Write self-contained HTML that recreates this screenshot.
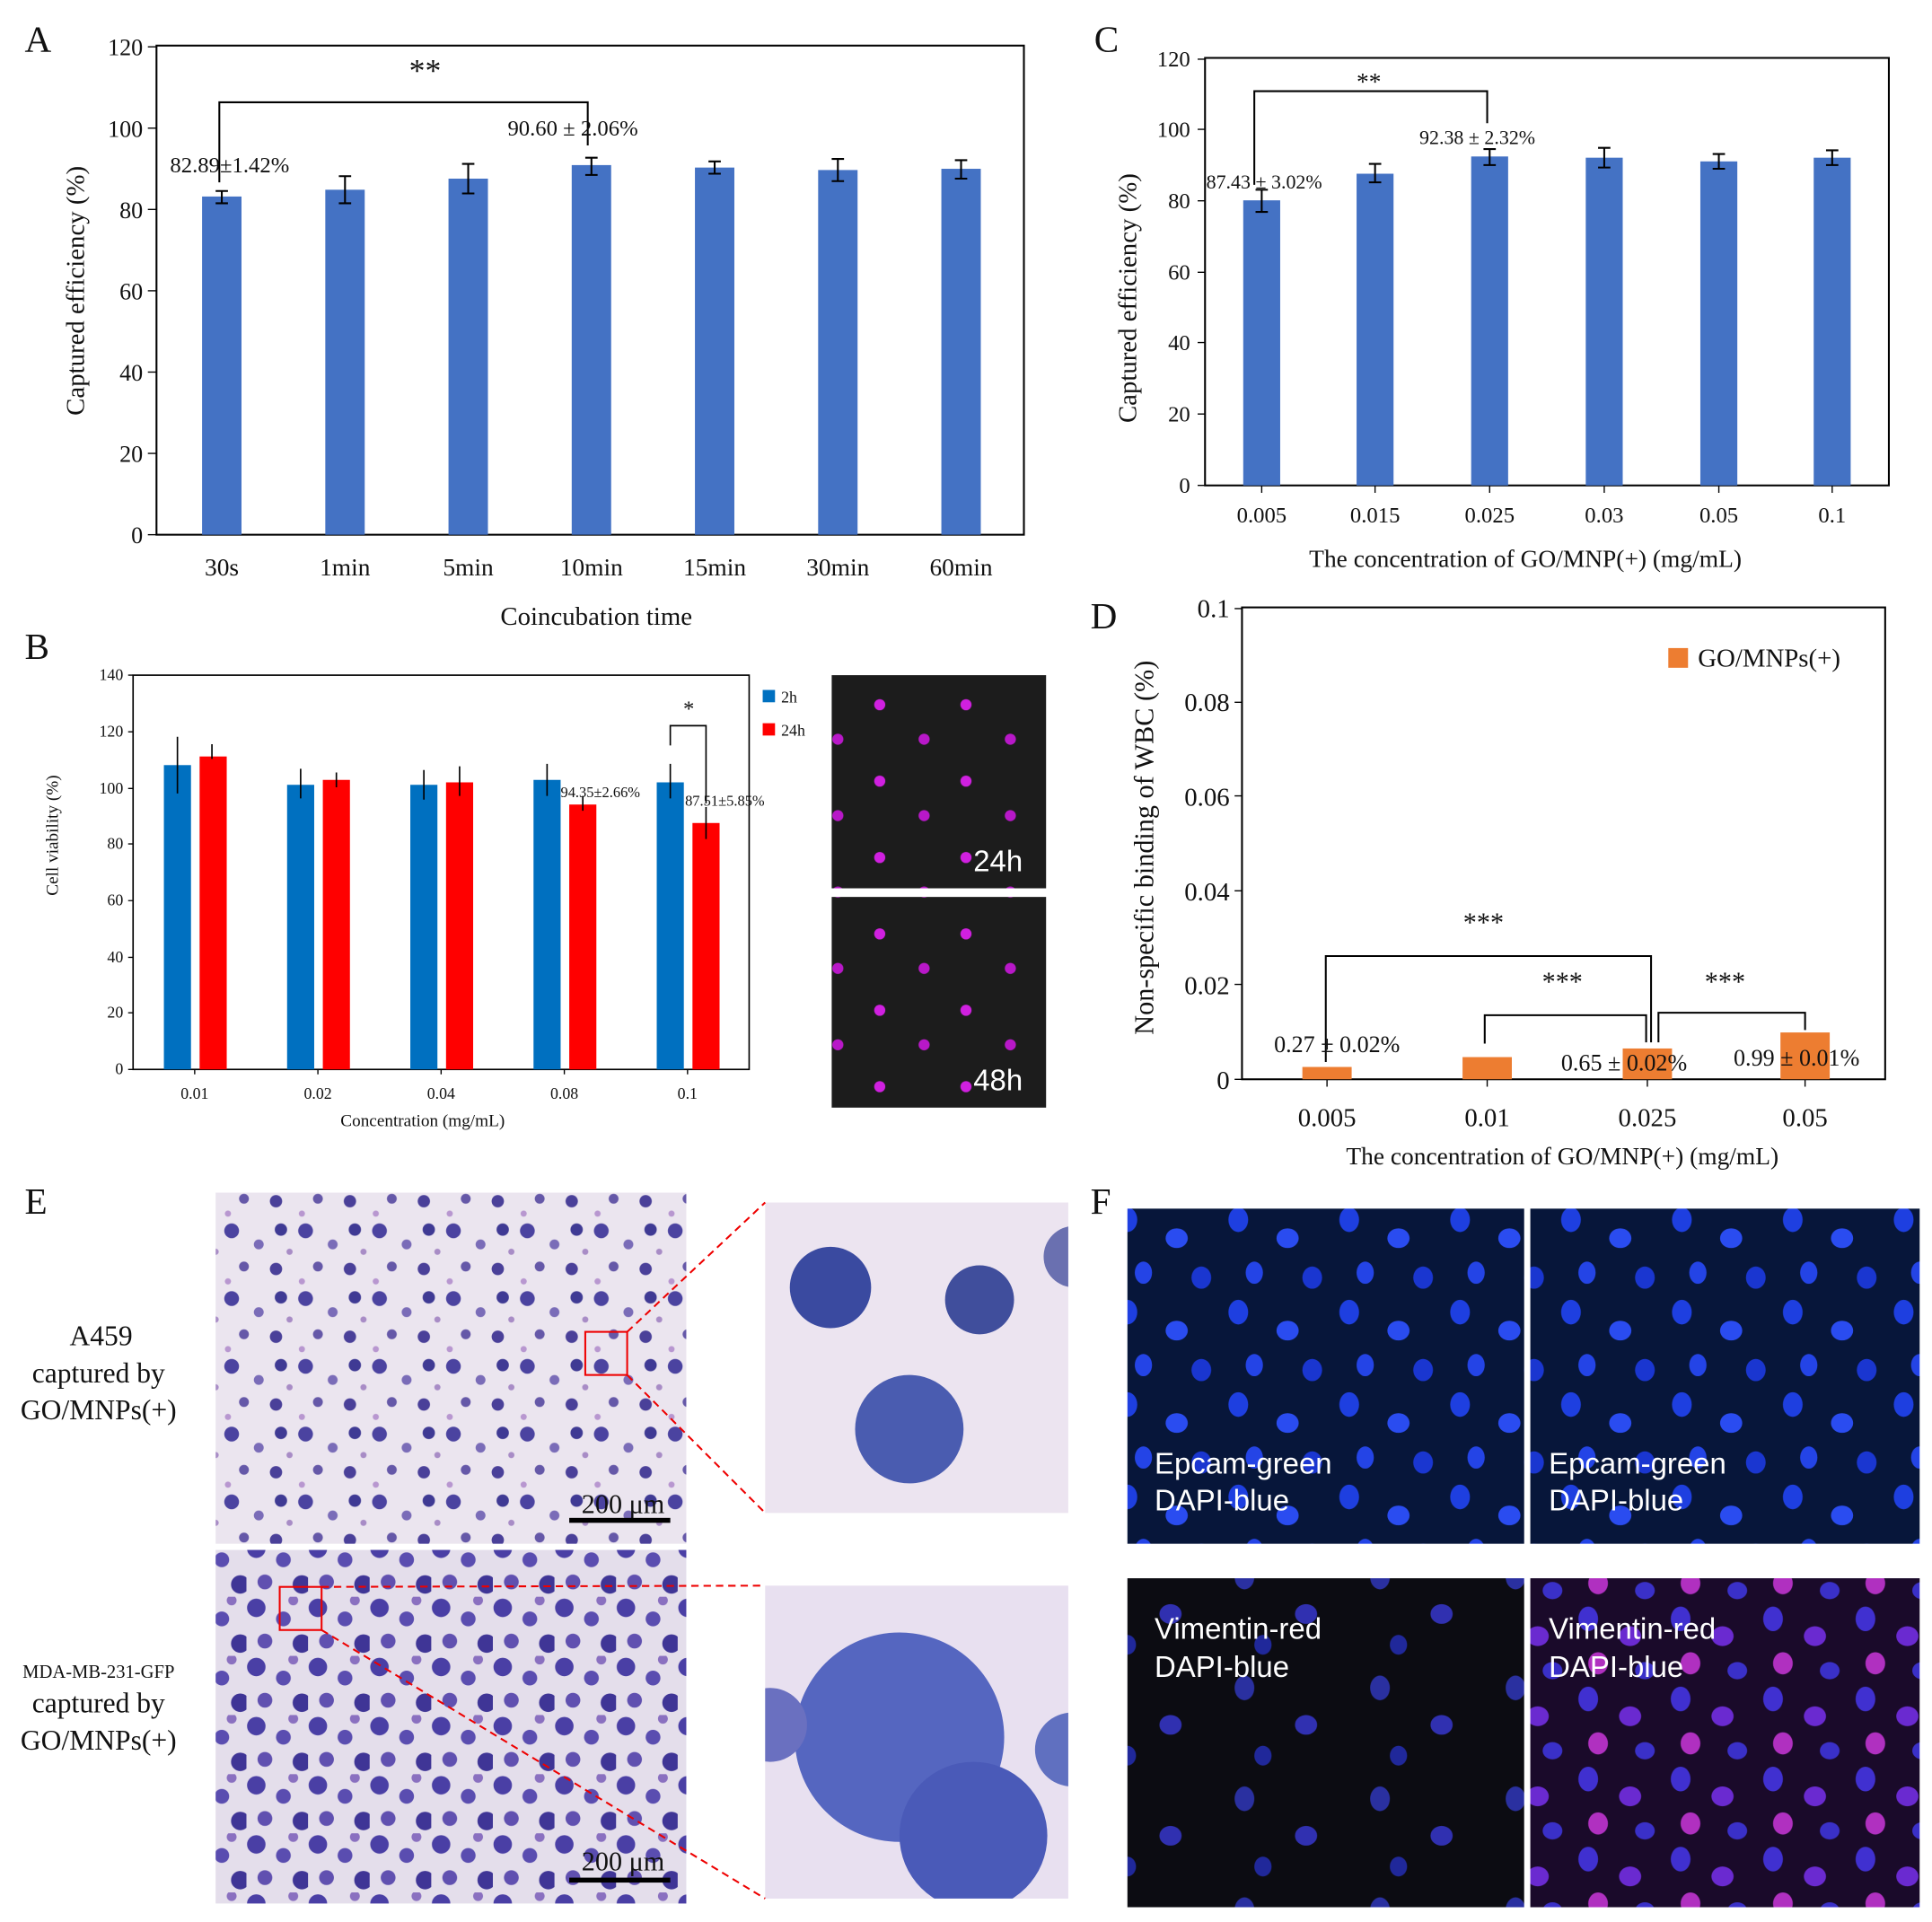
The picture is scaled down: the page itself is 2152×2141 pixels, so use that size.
<!DOCTYPE html>
<html><head><meta charset="utf-8"><style>body{margin:0;background:#fff}svg{display:block}text{font-family:"Liberation Serif",serif;fill:#111}.w{fill:#fff;font-family:"Liberation Sans",sans-serif}</style></head><body>
<svg width="2152" height="2141" viewBox="0 0 1568 1560" xmlns="http://www.w3.org/2000/svg">
<defs>
<clipPath id="z1"><rect x="621" y="976" width="246" height="252"/></clipPath>
<clipPath id="z2"><rect x="621" y="1287" width="246" height="254"/></clipPath>
<pattern id="cellsE" width="60" height="55" patternUnits="userSpaceOnUse">
<rect width="60" height="55" fill="#ebe5ef"/>
<circle cx="8" cy="9" r="6" fill="#4b43a0"/><circle cx="30" cy="20" r="4" fill="#7a6cb8"/><circle cx="48" cy="8" r="5" fill="#3f3a94"/>
<circle cx="18" cy="38" r="4" fill="#6558a8"/><circle cx="44" cy="40" r="5" fill="#4a4099"/><circle cx="55" cy="26" r="2.5" fill="#a88cc6"/><circle cx="5" cy="50" r="2.5" fill="#b897d0"/>
</pattern>
<pattern id="cellsE2" width="50" height="48" patternUnits="userSpaceOnUse">
<rect width="50" height="48" fill="#e4deeb"/>
<circle cx="8" cy="9" r="7.5" fill="#4a3fa5"/><circle cx="30" cy="18" r="6" fill="#5a4db0"/><circle cx="45" cy="38" r="7.5" fill="#3f3596"/>
<circle cx="15" cy="36" r="6" fill="#6050b0"/><circle cx="38" cy="3" r="4" fill="#8a70c0"/>
</pattern>
<pattern id="cellsF" width="90" height="75" patternUnits="userSpaceOnUse">
<rect width="90" height="75" fill="#07163a"/>
<ellipse cx="15" cy="15" rx="8" ry="10" fill="#1e3fe0"/><ellipse cx="55" cy="30" rx="9" ry="8" fill="#2a4cf0"/><ellipse cx="75" cy="62" rx="8" ry="9" fill="#1a36d0"/><ellipse cx="28" cy="58" rx="7" ry="9" fill="#2444e6"/>
</pattern>
<pattern id="cellsF2" width="110" height="90" patternUnits="userSpaceOnUse">
<rect width="110" height="90" fill="#0c0c12"/>
<ellipse cx="20" cy="20" rx="8" ry="10" fill="#2a30a0"/><ellipse cx="70" cy="50" rx="9" ry="8" fill="#3030b0"/><ellipse cx="35" cy="75" rx="7" ry="8" fill="#20289a"/>
</pattern>
<pattern id="cellsF3" width="75" height="65" patternUnits="userSpaceOnUse">
<rect width="75" height="65" fill="#1a0a2a"/>
<ellipse cx="14" cy="14" rx="8" ry="10" fill="#4030d0"/><ellipse cx="48" cy="28" rx="9" ry="8" fill="#6a2ad0"/><ellipse cx="60" cy="56" rx="8" ry="7" fill="#3a30c8"/><ellipse cx="22" cy="50" rx="8" ry="9" fill="#b030c0"/>
</pattern>
<pattern id="cellsB" width="70" height="62" patternUnits="userSpaceOnUse">
<rect width="70" height="62" fill="#1c1c1c"/>
<circle cx="14" cy="14" r="4.5" fill="#d020e0"/><circle cx="50" cy="42" r="4.5" fill="#b818c8"/>
</pattern>
</defs>

<!-- Panel A -->
<text x="20" y="42" font-size="30">A</text>
<rect x="127" y="37" width="704" height="397" fill="none" stroke="#000" stroke-width="1.5"/>
<g font-size="19" text-anchor="end">
<text x="116" y="441">0</text><text x="116" y="375">20</text><text x="116" y="309">40</text><text x="116" y="243">60</text><text x="116" y="177">80</text><text x="116" y="111">100</text><text x="116" y="45">120</text>
</g>
<g stroke="#000"><line x1="120" y1="434" x2="127" y2="434"/><line x1="120" y1="368" x2="127" y2="368"/><line x1="120" y1="302" x2="127" y2="302"/><line x1="120" y1="236" x2="127" y2="236"/><line x1="120" y1="170" x2="127" y2="170"/><line x1="120" y1="104" x2="127" y2="104"/><line x1="120" y1="38" x2="127" y2="38"/></g>
<g fill="#4472c4">
<rect x="164" y="159.5" width="32" height="274.5"/><rect x="264" y="154" width="32" height="280"/><rect x="364" y="145" width="32" height="289"/><rect x="464" y="134" width="32" height="300"/><rect x="564" y="136" width="32" height="298"/><rect x="664" y="138" width="32" height="296"/><rect x="764" y="137" width="32" height="297"/>
</g>
<g stroke="#000" stroke-width="1.5">
<path d="M180 155v10M175 155h10M175 165h10M280 143v22M275 143h10M275 165h10M380 133v24M375 133h10M375 157h10M480 128v14M475 128h10M475 142h10M580 131v10M575 131h10M575 141h10M680 129v18M675 129h10M675 147h10M780 130v15M775 130h10M775 145h10"/>
<path d="M178 148V83H477V118" fill="none"/>
</g>
<text x="345" y="66" font-size="26" text-anchor="middle">**</text>
<text x="138" y="140" font-size="18">82.89±1.42%</text>
<text x="412" y="110" font-size="18">90.60 ± 2.06%</text>
<g font-size="20" text-anchor="middle"><text x="180" y="467">30s</text><text x="280" y="467">1min</text><text x="380" y="467">5min</text><text x="480" y="467">10min</text><text x="580" y="467">15min</text><text x="680" y="467">30min</text><text x="780" y="467">60min</text></g>
<text x="484" y="507" font-size="21" text-anchor="middle">Coincubation time</text>
<text transform="translate(68 236) rotate(-90)" font-size="21" text-anchor="middle">Captured efficiency (%)</text>

<!-- Panel C -->
<text x="888" y="42" font-size="30">C</text>
<rect x="978" y="47" width="555" height="347" fill="none" stroke="#000" stroke-width="1.5"/>
<g font-size="18" text-anchor="end">
<text x="966" y="400">0</text><text x="966" y="342">20</text><text x="966" y="284">40</text><text x="966" y="227">60</text><text x="966" y="169">80</text><text x="966" y="111">100</text><text x="966" y="54">120</text>
</g>
<g stroke="#000"><path d="M972 394h6M972 336h6M972 278h6M972 221h6M972 163h6M972 105h6M972 48h6M1024 394v6M1116 394v6M1209 394v6M1302 394v6M1395 394v6M1487 394v6"/></g>
<g fill="#4472c4">
<rect x="1009" y="162.6" width="30" height="231.4"/><rect x="1101" y="141" width="30" height="253"/><rect x="1194" y="127" width="30" height="267"/><rect x="1287" y="128" width="30" height="266"/><rect x="1380" y="131" width="30" height="263"/><rect x="1472" y="128" width="30" height="266"/>
</g>
<g stroke="#000" stroke-width="1.5">
<path d="M1024 154v18M1019 154h10M1019 172h10M1116 133v15M1111 133h10M1111 148h10M1209 121v13M1204 121h10M1204 134h10M1302 120v16M1297 120h10M1297 136h10M1395 125v12M1390 125h10M1390 137h10M1487 122v12M1482 122h10M1482 134h10"/>
<path d="M1018 150V74H1207V100" fill="none"/>
</g>
<text x="1111" y="73" font-size="20" text-anchor="middle">**</text>
<text x="979" y="153" font-size="16">87.43 ± 3.02%</text>
<text x="1152" y="117" font-size="16">92.38 ± 2.32%</text>
<g font-size="18" text-anchor="middle"><text x="1024" y="424">0.005</text><text x="1116" y="424">0.015</text><text x="1209" y="424">0.025</text><text x="1302" y="424">0.03</text><text x="1395" y="424">0.05</text><text x="1487" y="424">0.1</text></g>
<text x="1238" y="460" font-size="20" text-anchor="middle">The concentration of GO/MNP(+) (mg/mL)</text>
<text transform="translate(922 242) rotate(-90)" font-size="21" text-anchor="middle">Captured efficiency  (%)</text>

<!-- Panel B -->
<text x="20" y="535" font-size="30">B</text>
<rect x="108" y="548" width="500" height="320" fill="none" stroke="#000" stroke-width="1.2"/>
<g font-size="13" text-anchor="end">
<text x="100" y="872">0</text><text x="100" y="826">20</text><text x="100" y="781">40</text><text x="100" y="735">60</text><text x="100" y="689">80</text><text x="100" y="644">100</text><text x="100" y="598">120</text><text x="100" y="552">140</text>
</g>
<g stroke="#000"><path d="M104 868h4M104 822h4M104 777h4M104 731h4M104 685h4M104 640h4M104 594h4M104 548h4M158 868v4M258 868v4M358 868v4M458 868v4M558 868v4"/></g>
<g fill="#0070c0">
<rect x="133" y="621" width="22" height="247"/><rect x="233" y="637" width="22" height="231"/><rect x="333" y="637" width="22" height="231"/><rect x="433" y="633" width="22" height="235"/><rect x="533" y="635" width="22" height="233"/>
</g>
<g fill="#ff0000">
<rect x="162" y="614" width="22" height="254"/><rect x="262" y="633" width="22" height="235"/><rect x="362" y="635" width="22" height="233"/><rect x="462" y="653" width="22" height="215"/><rect x="562" y="668" width="22" height="200"/>
</g>
<g stroke="#000" stroke-width="1.2">
<path d="M144 598v46M172 604v12M244 624v24M273 627v12M344 625v24M373 622v24M444 620v26M473 646v12M544 620v28M573 655v26"/>
<path d="M544 605V589H573V652" fill="none"/>
</g>
<text x="559" y="581" font-size="18" text-anchor="middle">*</text>
<text x="455" y="647" font-size="12">94.35±2.66%</text>
<text x="556" y="654" font-size="12">87.51±5.85%</text>
<g font-size="13" text-anchor="middle"><text x="158" y="892">0.01</text><text x="258" y="892">0.02</text><text x="358" y="892">0.04</text><text x="458" y="892">0.08</text><text x="558" y="892">0.1</text></g>
<text x="343" y="914" font-size="14" text-anchor="middle">Concentration (mg/mL)</text>
<text transform="translate(47 678) rotate(-90)" font-size="14" text-anchor="middle">Cell viability (%)</text>
<rect x="619" y="560" width="10" height="10" fill="#0070c0"/><text x="634" y="570" font-size="13">2h</text>
<rect x="619" y="587" width="10" height="10" fill="#ff0000"/><text x="634" y="597" font-size="13">24h</text>
<rect x="675" y="548" width="174" height="173" fill="url(#cellsB)"/>
<rect x="675" y="728" width="174" height="171" fill="url(#cellsB)"/>
<text x="790" y="707" font-size="24" class="w">24h</text>
<text x="790" y="885" font-size="24" class="w">48h</text>

<!-- Panel D -->
<text x="885" y="510" font-size="30">D</text>
<rect x="1008" y="493" width="522" height="383" fill="none" stroke="#000" stroke-width="1.5"/>
<g font-size="21" text-anchor="end">
<text x="998" y="884">0</text><text x="998" y="807">0.02</text><text x="998" y="731">0.04</text><text x="998" y="654">0.06</text><text x="998" y="577">0.08</text><text x="998" y="501">0.1</text>
</g>
<g stroke="#000"><path d="M1002 876h6M1002 799h6M1002 723h6M1002 646h6M1002 570h6M1002 494h6M1077 876v6M1207 876v6M1337 876v6M1465 876v6"/></g>
<g fill="#ed7d31">
<rect x="1057" y="866" width="40" height="10"/><rect x="1187" y="858" width="40" height="18"/><rect x="1317" y="851" width="40" height="25"/><rect x="1445" y="838" width="40" height="38"/>
</g>
<g stroke="#000" stroke-width="1.5" fill="none">
<path d="M1076 862V776H1340V846"/><path d="M1205 847V824H1336V846"/><path d="M1346 846V822H1465V836"/>
</g>
<g font-size="22" text-anchor="middle"><text x="1204" y="756">***</text><text x="1268" y="804">***</text><text x="1400" y="804">***</text></g>
<text x="1034" y="854" font-size="19">0.27 ± 0.02%</text>
<text x="1267" y="869" font-size="19">0.65 ± 0.02%</text>
<text x="1407" y="865" font-size="19">0.99 ± 0.01%</text>
<rect x="1354" y="526" width="16" height="16" fill="#ed7d31"/><text x="1378" y="541" font-size="21">GO/MNPs(+)</text>
<g font-size="21" text-anchor="middle"><text x="1077" y="914">0.005</text><text x="1207" y="914">0.01</text><text x="1337" y="914">0.025</text><text x="1465" y="914">0.05</text></g>
<text x="1268" y="945" font-size="20" text-anchor="middle">The concentration of GO/MNP(+) (mg/mL)</text>
<text transform="translate(936 688) rotate(-90)" font-size="22" text-anchor="middle">Non-specific binding of WBC  (%)</text>

<!-- Panel E -->
<text x="20" y="985" font-size="30">E</text>
<rect x="175" y="968" width="382" height="285" fill="url(#cellsE)"/>
<rect x="175" y="1258" width="382" height="287" fill="url(#cellsE2)"/>
<rect x="621" y="976" width="246" height="252" fill="#ece4f0"/>
<g clip-path="url(#z1)">
<circle cx="674" cy="1045" r="33" fill="#3a4aa0"/><circle cx="795" cy="1055" r="28" fill="#404e9c"/><circle cx="738" cy="1160" r="44" fill="#4a5cb0"/><circle cx="872" cy="1020" r="25" fill="#6a70b0"/>
</g>
<rect x="621" y="1287" width="246" height="254" fill="#e8e0f0"/>
<g clip-path="url(#z2)">
<circle cx="730" cy="1410" r="85" fill="#5566c0"/><circle cx="790" cy="1490" r="60" fill="#4a5ab8"/><circle cx="870" cy="1420" r="30" fill="#6070c0"/><circle cx="625" cy="1400" r="30" fill="#6a70c0"/>
</g>
<rect x="475" y="1081" width="34" height="35" fill="none" stroke="#e00" stroke-width="1.5"/>
<rect x="227" y="1288" width="34" height="35" fill="none" stroke="#e00" stroke-width="1.5"/>
<g stroke="#e00" stroke-dasharray="6 4" stroke-width="1.5"><line x1="509" y1="1081" x2="621" y2="976"/><line x1="509" y1="1116" x2="621" y2="1228"/><line x1="261" y1="1288" x2="621" y2="1287"/><line x1="261" y1="1323" x2="621" y2="1541"/></g>
<text x="472" y="1228" font-size="22">200 μm</text><rect x="462" y="1232" width="82" height="4" fill="#000"/>
<text x="472" y="1518" font-size="22">200 μm</text><rect x="462" y="1524" width="82" height="4" fill="#000"/>
<g font-size="23" text-anchor="middle"><text x="82" y="1092">A459</text><text x="80" y="1122">captured by</text><text x="80" y="1152">GO/MNPs(+)</text>
<text x="80" y="1362" font-size="15">MDA-MB-231-GFP</text><text x="80" y="1390">captured by</text><text x="80" y="1420">GO/MNPs(+)</text></g>

<!-- Panel F -->
<text x="885" y="985" font-size="30">F</text>
<rect x="915" y="981" width="322" height="272" fill="url(#cellsF)"/>
<rect x="1242" y="981" width="316" height="272" fill="url(#cellsF)"/>
<rect x="915" y="1281" width="322" height="267" fill="url(#cellsF2)"/>
<rect x="1242" y="1281" width="316" height="267" fill="url(#cellsF3)"/>
<g font-size="24">
<text x="937" y="1196" class="w">Epcam-green</text><text x="937" y="1226" class="w">DAPI-blue</text>
<text x="1257" y="1196" class="w">Epcam-green</text><text x="1257" y="1226" class="w">DAPI-blue</text>
<text x="937" y="1330" class="w">Vimentin-red</text><text x="937" y="1361" class="w">DAPI-blue</text>
<text x="1257" y="1330" class="w">Vimentin-red</text><text x="1257" y="1361" class="w">DAPI-blue</text>
</g>
</svg>
</body></html>
